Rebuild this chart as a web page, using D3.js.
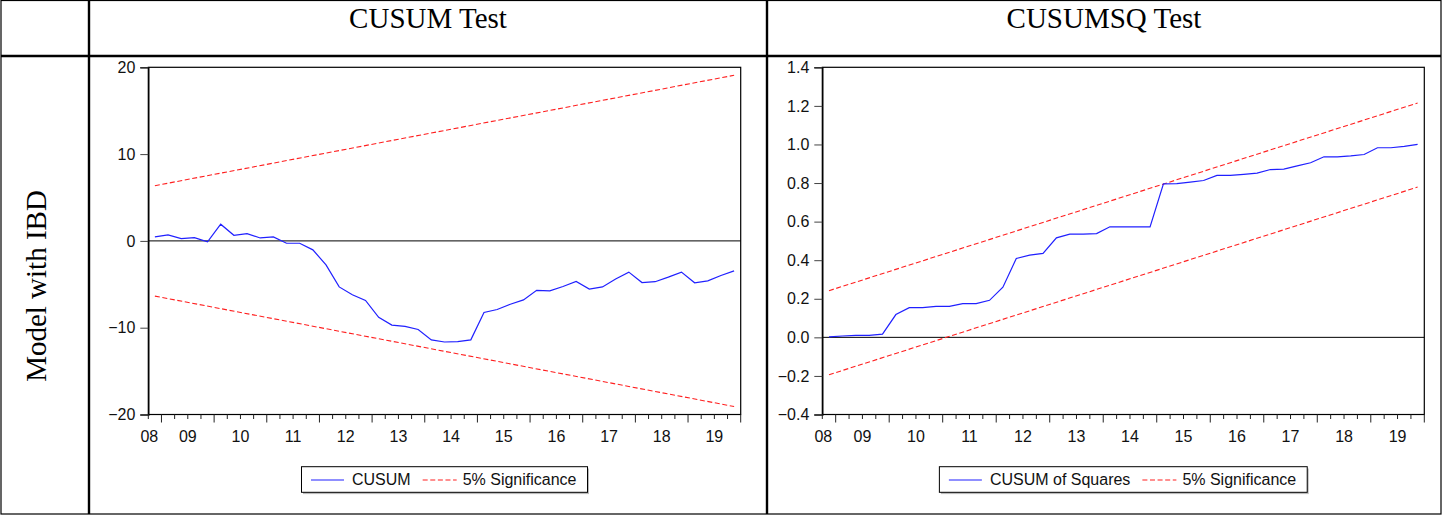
<!DOCTYPE html>
<html>
<head>
<meta charset="utf-8">
<script src="https://cdn.jsdelivr.net/npm/d3@7"></script>
<style>
  html, body { margin: 0; padding: 0; background: #fff; }
  svg { display: block; }
</style>
</head>
<body>
<svg id="chart" width="1442" height="515"></svg>
<script>
// ---------- DATA ----------
const periods = ["2008Q4",
  "2009Q1","2009Q2","2009Q3","2009Q4","2010Q1","2010Q2","2010Q3","2010Q4",
  "2011Q1","2011Q2","2011Q3","2011Q4","2012Q1","2012Q2","2012Q3","2012Q4",
  "2013Q1","2013Q2","2013Q3","2013Q4","2014Q1","2014Q2","2014Q3","2014Q4",
  "2015Q1","2015Q2","2015Q3","2015Q4","2016Q1","2016Q2","2016Q3","2016Q4",
  "2017Q1","2017Q2","2017Q3","2017Q4","2018Q1","2018Q2","2018Q3","2018Q4",
  "2019Q1","2019Q2","2019Q3","2019Q4"];
const yearLabels = ["08","09","10","11","12","13","14","15","16","17","18","19"];

const cusum = [0.46,0.69,0.27,0.38,-0.10,1.92,0.65,0.84,0.34,0.46,
  -0.27,-0.27,-1.03,-2.76,-5.30,-6.20,-6.86,-8.80,-9.70,-9.85,
  -10.20,-11.40,-11.65,-11.60,-11.40,-8.24,-7.90,-7.30,-6.80,-5.70,
  -5.75,-5.25,-4.67,-5.55,-5.30,-4.40,-3.60,-4.80,-4.70,-4.17,
  -3.60,-4.83,-4.60,-3.99,-3.45];
const cusumUpper = [6.36, 19.08];   // at first and last period
const cusumLower = [-6.36, -19.08];

const cusumSq = [0.002,0.007,0.010,0.010,0.017,0.118,0.154,0.154,0.161,0.161,
  0.175,0.175,0.192,0.260,0.409,0.426,0.435,0.516,0.535,0.535,
  0.538,0.573,0.573,0.573,0.573,0.796,0.797,0.805,0.813,0.840,
  0.840,0.845,0.851,0.870,0.872,0.889,0.905,0.936,0.936,0.941,
  0.948,0.983,0.983,0.990,1.000];
const sqUpper = [0.242, 1.215];
const sqLower = [-0.194, 0.779];

const cusumTicks = [-20,-10,0,10,20];
const sqTicks = [-0.4,-0.2,0.0,0.2,0.4,0.6,0.8,1.0,1.2,1.4];

// ---------- DRAW ----------
const svg = d3.select("#chart");
const W = 1442, H = 515;

// table grid
const grid = svg.append("g").attr("fill","none").attr("stroke","#000");
grid.append("rect").attr("x",1).attr("y",0.5).attr("width",1440).attr("height",513.5).attr("stroke-width",1.2);
grid.append("line").attr("x1",89).attr("x2",89).attr("y1",0).attr("y2",514).attr("stroke-width",2.4);
grid.append("line").attr("x1",767).attr("x2",767).attr("y1",0).attr("y2",514).attr("stroke-width",2.4);
grid.append("line").attr("x1",1).attr("x2",1441).attr("y1",56).attr("y2",56).attr("stroke-width",2.6);

const serif = "'Liberation Serif','Times New Roman',serif";
const sans = "'Liberation Sans',Arial,sans-serif";

svg.append("text").attr("x",428).attr("y",28).attr("text-anchor","middle")
  .style("font-family",serif).style("font-size","29px").text("CUSUM Test");
svg.append("text").attr("x",1104).attr("y",28).attr("text-anchor","middle")
  .style("font-family",serif).style("font-size","29px").text("CUSUMSQ Test");
svg.append("text").attr("transform","translate(46,286) rotate(-90)").attr("text-anchor","middle")
  .style("font-family",serif).style("font-size","29px").text("Model with IBD");

function panel(opts) {
  const {left, right, top, bottom, yDomain, ticks, fmt, series, upper, lower, seriesName} = opts;
  const g = svg.append("g");
  const n = periods.length;
  const x = d3.scaleLinear().domain([0, n]).range([left, right]);
  const y = d3.scaleLinear().domain(yDomain).range([bottom, top]);
  const xc = i => x(i + 0.5);

  // frame
  g.append("rect").attr("x",left).attr("y",top).attr("width",right-left).attr("height",bottom-top)
    .attr("fill","none").attr("stroke","#000").attr("stroke-width",1.2);

  // y axis
  const ya = g.append("g").attr("transform",`translate(${left},0)`)
    .call(d3.axisLeft(y).tickValues(ticks).tickFormat(fmt).tickSize(8).tickPadding(5));
  ya.select(".domain").attr("stroke","#000").attr("stroke-width",1.4);
  ya.selectAll(".tick line").attr("stroke","#444");
  ya.selectAll(".tick text").style("font-family",sans).style("font-size","16px").attr("fill","#111");

  // x axis ticks (quarters)
  const qIdx = d3.range(0, n + 1);
  g.append("g").selectAll("line").data(qIdx).join("line")
    .attr("x1", d => x(d)).attr("x2", d => x(d))
    .attr("y1", bottom).attr("y2", d => bottom + ((periods[d] || "Q1").endsWith("Q1") ? 8 : 4.5))
    .attr("stroke","#222").attr("stroke-width",1);

  // year labels
  g.append("g").selectAll("text").data(yearLabels).join("text")
    .attr("x", (d, k) => {
      const firstQ = periods.findIndex(p => p.slice(2,4) === d);
      const lastQ = periods.length - 1 - [...periods].reverse().findIndex(p => p.slice(2,4) === d);
      const start = periods[firstQ].endsWith("Q1") ? firstQ : 0.08;
      return firstQ === 0 && !periods[0].endsWith("Q1") ? x(0.08) : x((firstQ + lastQ + 1) / 2);
    })
    .attr("y", bottom + 27)
    .attr("text-anchor","middle")
    .style("font-family",sans).style("font-size","16px").attr("fill","#111")
    .text(d => d);

  // zero line
  g.append("line").attr("x1",left).attr("x2",right).attr("y1",y(0)).attr("y2",y(0))
    .attr("stroke","#000").attr("stroke-width",1);

  // bounds
  const bLine = d3.line().x(d => xc(d[0])).y(d => y(d[1]));
  [upper, lower].forEach(b => {
    g.append("path").datum([[0, b[0]], [n - 1, b[1]]]).attr("d", bLine)
      .attr("fill","none").attr("stroke","#ff2020").attr("stroke-width",1.1)
      .attr("stroke-dasharray","5,2.6");
  });

  // series
  const sLine = d3.line().x((d, i) => xc(i)).y(d => y(d));
  g.append("path").datum(series).attr("d", sLine)
    .attr("fill","none").attr("stroke","#2020ff").attr("stroke-width",1.2);

  // legend
  const lg = g.append("g");
  const cy = 480;
  const t1 = lg.append("text").attr("y",485).style("font-family",sans).style("font-size","16px").attr("fill","#111").text(seriesName);
  const t2 = lg.append("text").attr("y",485).style("font-family",sans).style("font-size","16px").attr("fill","#111").text("5% Significance");
  const w1 = t1.node().getComputedTextLength();
  const w2 = t2.node().getComputedTextLength();
  const total = 9.5 + 33 + 8 + w1 + 12 + 34 + 6 + w2 + 11;
  const L = (left + right) / 2 - total / 2;
  lg.insert("rect", "text").attr("x",L+1.5).attr("y",468.5).attr("width",total).attr("height",25.6)
    .attr("fill","#bbb");
  lg.insert("rect", "text").attr("x",L).attr("y",466.7).attr("width",total).attr("height",25.6)
    .attr("fill","#fff").attr("stroke","#000").attr("stroke-width",1);
  lg.append("line").attr("x1",L+9.5).attr("x2",L+42.5).attr("y1",cy).attr("y2",cy)
    .attr("stroke","#2020ff").attr("stroke-width",1.2);
  t1.attr("x", L + 50.5);
  const r0 = L + 50.5 + w1 + 12;
  lg.append("line").attr("x1",r0).attr("x2",r0+34).attr("y1",cy).attr("y2",cy)
    .attr("stroke","#ff2020").attr("stroke-width",1.1).attr("stroke-dasharray","5,2.6");
  t2.attr("x", r0 + 40);
}

panel({left:148.3, right:740.7, top:67.3, bottom:414.5, yDomain:[-20,20], ticks:cusumTicks,
  fmt:d3.format("d"), series:cusum, upper:cusumUpper, lower:cusumLower, seriesName:"CUSUM"});
panel({left:822.3, right:1424.3, top:67.3, bottom:414.5, yDomain:[-0.4,1.4], ticks:sqTicks,
  fmt:d3.format(".1f"), series:cusumSq, upper:sqUpper, lower:sqLower, seriesName:"CUSUM of Squares"});
</script>
</body>
</html>
